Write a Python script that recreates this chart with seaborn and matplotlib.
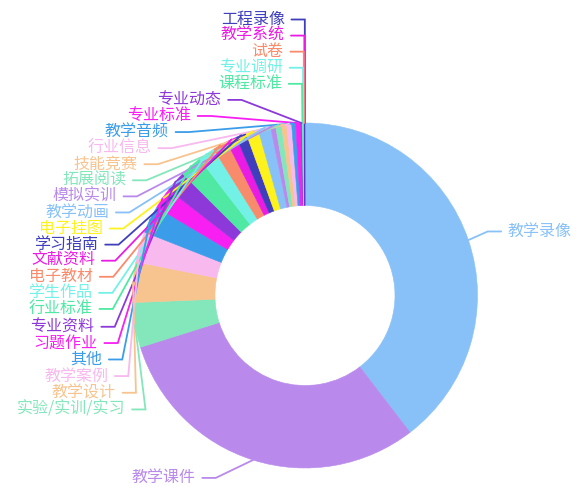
import numpy as np
import matplotlib
matplotlib.use("Agg")
import matplotlib.pyplot as plt
import seaborn as sns

# resource types, clockwise from 12 o'clock
CATEGORIES = ["教学录像", "教学课件", "实验/实训/实习", "教学设计", "教学案例", "其他",
              "习题作业", "专业资料", "行业标准", "学生作品", "电子教材", "文献资料",
              "学习指南", "电子挂图", "教学动画", "模拟实训", "拓展阅读", "技能竞赛",
              "行业信息", "教学音频", "专业标准", "专业动态", "课程标准", "专业调研",
              "试卷", "教学系统", "工程录像"]
VALUES = [142.5, 110.0, 15.1, 13.6, 10.3, 9.2, 7.1, 7.0, 7.5, 5.7, 5.0, 3.5, 3.5, 4.2,
          4.2, 1.7, 2.0, 1.7, 1.7, 1.4, 1.7, 0.35, 0.3, 0.25, 0.2, 0.15, 0.1]
PALETTE = ["#88c1f7", "#b98aec", "#84e6bb", "#f7c48f", "#f7b9ee", "#3b9de9", "#f71ff2",
           "#8d39d9", "#4fe9a3", "#74f1e6", "#f88b6b", "#ea1ce4", "#3f3fbd", "#fdf21c"]

W, H = 577, 487
VIEW_H = 494               # chart container is a bit taller than the crop
CX, CY = 305, 295.5        # pixel space, y downwards
R_OUT, R_IN = 172.5, 90
S = 1.34                   # screenshot scale
LEN1, LEN2, GAP = 20 * S, 10 * S, 5 * S
LABEL_H = 12 * S


def adjust_side(items, side):
    items.sort(key=lambda it: it["y"])
    n = len(items)

    def shift_up(end, delta):
        for j in range(end, -1, -1):
            if items[j]["y"] - delta < 0:
                break
            items[j]["y"] -= delta
            if j > 0 and items[j]["y"] > items[j - 1]["y"] + LABEL_H:
                break

    def shift_down(start, end, delta):
        for j in range(start, end):
            if items[j]["y"] + delta > VIEW_H:
                break
            items[j]["y"] += delta
            if j > start and j + 1 < end and items[j + 1]["y"] > items[j]["y"] + LABEL_H:
                shift_up(j, delta / 2)
                return
        shift_up(end - 1, delta / 2)

    last_y = 0
    for i in range(n):
        delta = items[i]["y"] - last_y
        if delta < 0:
            shift_down(i, n, -delta)
        last_y = items[i]["y"] + LABEL_H
    if VIEW_H - last_y < 0:
        shift_up(n - 1, last_y - VIEW_H)

    up = [it for it in items if it["y"] < CY]
    down = [it for it in items if it["y"] >= CY]
    k = R_OUT + LEN1 + LEN2
    for lst, is_down in ((up, False), (down, True)):
        last_dx = 1e9 if is_down else 0
        for it in lst:
            dy = abs(it["y"] - CY)
            dx = np.sqrt(k * k - dy * dy) if dy < R_OUT + LEN1 else abs(it["x"] - CX)
            if is_down and dx >= last_dx:
                dx = last_dx - 10
            if not is_down and dx <= last_dx:
                dx = last_dx + 10
            it["x"] = CX + dx * side
            last_dx = dx


def main():
    sns.set_theme(style="white")
    plt.rcParams["font.family"] = ["Noto Sans CJK SC", "DejaVu Sans"]

    fig = plt.figure(figsize=(W / 100, H / 100), dpi=100)
    ax = fig.add_axes([0, 0, 1, 1])
    colors = [PALETTE[i % len(PALETTE)] for i in range(len(VALUES))]

    wedges, _ = ax.pie(VALUES, colors=colors, startangle=90, counterclock=False,
                       radius=R_OUT, center=(CX, H - CY),
                       wedgeprops=dict(width=R_OUT - R_IN, linewidth=0.4))
    for w, c in zip(wedges, colors):
        w.set_edgecolor(c)

    # label layout
    vals = np.asarray(VALUES, dtype=float)
    ends = np.cumsum(vals) / vals.sum() * 360
    mids = ends - vals / vals.sum() * 180
    items = {-1: [], 1: []}
    for name, c, th in zip(CATEGORIES, colors, np.radians(mids)):
        ux, uy = np.sin(th), -np.cos(th)
        x1, y1 = CX + R_OUT * ux, CY + R_OUT * uy
        x2, y2 = x1 + ux * LEN1, y1 + uy * LEN1
        side = -1 if ux < 0 else 1
        x3 = x2 + side * LEN2
        items[side].append(dict(name=name, color=c, p1=(x1, y1), x=x3 + side * GAP,
                                y=y2, dist=x2 - x3))
    for side in (-1, 1):
        adjust_side(items[side], side)
        for it in items[side]:
            x3 = it["x"] - side * GAP
            x2 = x3 + it["dist"]
            xs = [it["p1"][0], x2, x3]
            ys = [H - it["p1"][1], H - it["y"], H - it["y"]]
            ax.plot(xs, ys, color=it["color"], lw=1.3, solid_joinstyle="miter")
            ax.text(it["x"], H - it["y"], it["name"], color=it["color"],
                    ha="right" if side < 0 else "left", va="center", fontsize=11.5)

    ax.set_xlim(0, W)
    ax.set_ylim(0, H)
    ax.set_axis_off()
    fig.savefig("out.png", dpi=100, facecolor="white")


if __name__ == "__main__":
    main()
